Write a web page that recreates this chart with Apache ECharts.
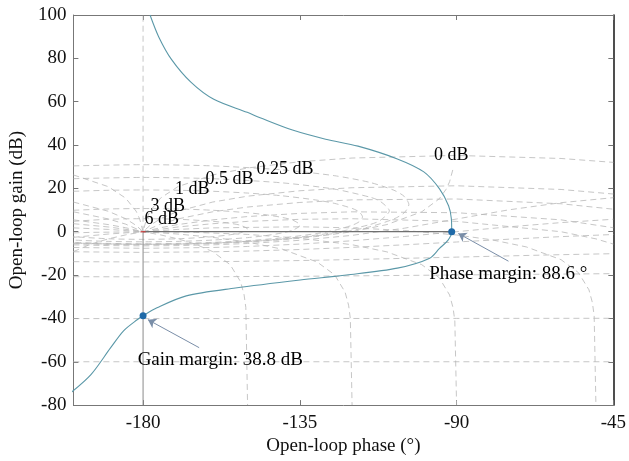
<!DOCTYPE html>
<html><head><meta charset="utf-8">
<script src="https://cdn.jsdelivr.net/npm/echarts@6/dist/echarts.min.js"></script>
<style>html,body{margin:0;padding:0;background:#fff}#c{width:629px;height:461px}</style>
</head><body><div id="c"></div>
<script>
// ---------- data (phase in degrees, gain in dB) ----------
const xTicks = [-180, -135, -90, -45];
const nicholsCurve = [[-178.0,100],[-175.5,89.9],[-171.8,79.4],[-166.2,68.9],[-159.7,61.1],[-150.1,55.1],[-146.4,52.6],[-137.1,46.9],[-127.6,42.7],[-118.3,39.5],[-107.0,33.6],[-99.4,27.6],[-94.9,19.8],[-92.3,12.0],[-91.5,6],[-91.4,0],[-92.5,-4],[-94.9,-7.7],[-97.7,-12.2],[-107.0,-16.8],[-121.6,-20.0],[-134.9,-22.3],[-153.5,-26.0],[-167.6,-29.6],[-176.0,-35.1],[-180.0,-38.8],[-181.7,-40.6],[-185.6,-45.7],[-189.3,-53.5],[-194.9,-65.8],[-200.6,-74.1]];
const gainMarginPoint = [-180, -38.8];
const phaseMarginPoint = [-91.4, 0];

// closed-loop gain contours (M)
const m6 = [[-200,4.81],[-190,5.75],[-180,6.02],[-170,5.75],[-160,4.81],[-155,3.89],[-152,2.96],[-150,1.25],[-152,-0.46],[-155,-1.39],[-160,-2.30],[-170,-3.25],[-180,-3.52],[-190,-3.25],[-200,-2.30]];
const m3 = [[-200,9.90],[-190,10.50],[-180,10.69],[-170,10.50],[-160,9.90],[-150,8.76],[-145,7.87],[-140,6.57],[-137,5.33],[-134.9,3.02],[-137,0.71],[-140,-0.53],[-145,-1.83],[-150,-2.72],[-160,-3.86],[-170,-4.46],[-180,-4.65],[-190,-4.46],[-200,-3.86]];
const m1 = [[-200,18.66],[-190,19.12],[-180,19.27],[-170,19.12],[-160,18.66],[-150,17.84],[-140,16.56],[-130,14.55],[-125,13.06],[-120,10.77],[-118,9.17],[-117,6.87],[-118,4.57],[-120,2.97],[-125,0.68],[-130,-0.81],[-140,-2.82],[-150,-4.10],[-160,-4.92],[-170,-5.38],[-180,-5.53],[-190,-5.38],[-200,-4.92]];
const m05 = [[-200,24.47],[-180,25.05],[-160,24.47],[-140,22.54],[-125,19.64],[-115,16.01],[-112,14.12],[-109.3,9.63],[-112,5.14],[-115,3.25],[-125,-0.37],[-140,-3.27],[-160,-5.21],[-180,-5.78],[-200,-5.21]];
const m025 = [[-200,30.38],[-180,30.94],[-160,30.38],[-140,28.53],[-125,25.84],[-115,22.80],[-108,19.15],[-105,16.25],[-103.7,12.53],[-105,8.8],[-108,5.89],[-115,2.25],[-125,-0.79],[-140,-3.49],[-160,-5.34],[-180,-5.90],[-200,-5.34]];
const m0 = [[-200,-5.48],[-190,-5.89],[-180,-6.02],[-170,-5.89],[-160,-5.48],[-150,-4.77],[-140,-3.71],[-130,-2.18],[-120,0],[-110,3.30],[-100,9.19],[-95,15.16],[-93,19.6],[-92,23.1],[-91,29.1]];
const mNeg1 = [[-200,-6.05],[-190,-6.40],[-180,-6.53],[-170,-6.40],[-160,-6.05],[-150,-5.44],[-135,-3.96],[-120,-1.68],[-105,1.62],[-90,5.87],[-75,10.1],[-60,13.4],[-45,15.7]];
const mNeg3 = [[-200,-7.27],[-180,-7.65],[-160,-7.27],[-150,-6.80],[-135,-5.71],[-120,-4.17],[-105,-2.21],[-90,0.02],[-75,2.25],[-60,4.21],[-45,5.75]];
const mNeg6 = [[-200,-9.26],[-180,-9.53],[-160,-9.26],[-150,-8.93],[-135,-8.21],[-120,-7.22],[-105,-6.04],[-90,-4.74],[-75,-3.45],[-60,-2.26],[-45,-1.28]];
const mNeg12 = [[-200,-13.82],[-180,-13.95],[-160,-13.82],[-150,-13.65],[-135,-13.30],[-120,-12.84],[-90,-11.72],[-60,-10.59],[-45,-10.13]];
const mNeg20 = [[-200,-20.75],[-180,-20.83],[-160,-20.75],[-135,-20.57],[-90,-19.96],[-45,-19.34]];
const mNeg40 = [[-200,-40.08],[-180,-40.09],[-90,-40.0],[-45,-39.94]];
const mNeg60 = [[-200,-60],[-45,-60]];

// closed-loop phase contours (N)
const n1 = [[-200,26.2],[-190,20.8],[-185,15.5],[-182,9.5],[-181,6.0],[-180,0],[-179,6.0],[-178,9.5],[-175,15.5],[-170,20.8],[-160,26.2],[-150,29.4],[-135,32.3],[-120,34.0],[-90,35.2],[-60,33.8],[-45,32.0]];
const n5 = [[-200,13.7],[-190,9.45],[-185,6.0],[-182,2.91],[-180,0],[-178,2.91],[-175,6.0],[-170,9.45],[-160,13.7],[-150,16.4],[-135,18.9],[-120,20.3],[-90,21.2],[-60,19.5],[-45,17.4]];
const n10 = [[-200,9.2],[-190,5.9],[-185,3.5],[-180,0],[-175,3.5],[-170,5.9],[-160,9.2],[-150,11.4],[-135,13.5],[-120,14.7],[-90,15.1],[-60,12.9],[-45,10.4]];
const n20 = [[-200,5.48],[-190,3.3],[-185,1.84],[-180,0],[-175,1.84],[-170,3.3],[-160,5.48],[-150,7.0],[-135,8.46],[-120,9.18],[-90,8.78],[-60,5.48],[-45,1.84]];
const n30 = [[-200,3.7],[-190,2.2],[-180,0],[-170,2.2],[-160,3.7],[-150,4.77],[-135,5.72],[-120,6.0],[-90,4.77],[-60,0],[-50,-3.3],[-45,-5.7]];
const n50 = [[-200,1.78],[-190,1.07],[-180,0],[-170,1.07],[-160,1.78],[-135,2.28],[-120,1.78],[-105,0.58],[-90,-1.52],[-80,-3.7],[-70,-7.0],[-60,-12.9],[-55,-18.9],[-52,-26.8],[-51,-32.8],[-50.5,-38.9],[-50,-80]];
const n90 = [[-200,-0.54],[-195,-0.3],[-180,0],[-165,-0.3],[-150,-1.25],[-135,-3.0],[-120,-6.0],[-110,-9.3],[-100,-15.2],[-95,-21.2],[-92,-29.2],[-91,-35.2],[-90.5,-41.2],[-90,-80]];
const n120 = [[-200,-2.59],[-190,-1.07],[-180,0],[-170,-1.07],[-160,-2.59],[-150,-4.77],[-140,-8.07],[-130,-14.0],[-125,-19.9],[-122,-27.9],[-121,-33.9],[-120.5,-40],[-120,-80]];
const n150 = [[-200,-9.19],[-195,-5.72],[-190,-3.30],[-185,-1.46],[-180,0],[-175,-1.46],[-170,-3.30],[-165,-5.72],[-160,-9.19],[-155,-15.2],[-152,-23.1],[-151,-29.1],[-150.5,-35],[-150,-80]];
const n360 = [[-180,0],[-180,100]];

// margin lines
const gmLine = [[-180,0],[-180,-80]];
const pmLine = [[-180,0],[-91.4,0]];

// text labels
const contourLabels = [[-179.7,5.6,'6 dB'],[-178.0,11.6,'3 dB'],[-171.0,19.8,'1 dB'],[-162.2,24.4,'0.5 dB'],[-147.6,29.0,'0.25 dB'],[-96.6,35.4,'0 dB']];
const marginLabels = [[-181.7,-59.4,'Gain margin: 38.8 dB'],[-98.0,-19.6,'Phase margin: 88.6 °']];
const arrows = [[[-163.9,-53.5],[-178.6,-40.6]],[[-75.1,-13.6],[-89.5,-0.8]]];

// ---------- chart ----------
const FONT = 'Liberation Serif, Times New Roman, serif';
const gridColor = '#b8b8b8';
function gridLine(data, smooth) {
  return {type:'line', data:data, showSymbol:false, symbol:'none', silent:true, smooth:smooth||false, z:1,
    lineStyle:{color:gridColor, width:0.8, type:[6,4]}};
}
const gridSets = [m6,m3,m1,m05,m025,m0,mNeg1,mNeg3,mNeg6,mNeg12,mNeg20,mNeg40,mNeg60,n1,n5,n10,n20,n30,n50,n90,n120,n150,n360];
const series = gridSets.map((d, i) => gridLine(d, i < 5 ? 0.25 : false));

series.push({type:'line', data:gmLine, symbol:'none', silent:true, z:2, lineStyle:{color:'#8a8a8a', width:1}});
series.push({type:'line', data:pmLine, symbol:'none', silent:true, z:2, lineStyle:{color:'#6f6f6f', width:1.2}});
series.push({type:'line', data:nicholsCurve, symbol:'none', smooth:0.3, z:3, lineStyle:{color:'#5b98a8', width:1.1}});
series.push({type:'scatter', data:[gainMarginPoint, phaseMarginPoint], symbolSize:7, z:4, itemStyle:{color:'#1f6aa8', opacity:1}});
series.push({type:'scatter', data:[[-180,0]], symbol:'rect', symbolSize:[5,1.2], z:4, itemStyle:{color:'#d04040', opacity:1}});
series.push({type:'lines', coordinateSystem:'cartesian2d', z:4, symbol:['none','arrow'], symbolSize:8,
  lineStyle:{color:'#7a8ea8', width:1, opacity:1}, data:arrows.map(c => ({coords:c}))});
const labelBase = {show:true, position:'right', distance:0, formatter:p => p.data[2], color:'#000', fontFamily:FONT, opacity:1};
series.push({type:'scatter', data:contourLabels, symbolSize:1, z:5, silent:true, itemStyle:{opacity:1, color:'rgba(0,0,0,0)'},
  label:Object.assign({fontSize:18}, labelBase)});
series.push({type:'scatter', data:marginLabels, symbolSize:1, z:5, silent:true, itemStyle:{opacity:1, color:'rgba(0,0,0,0)'},
  label:Object.assign({fontSize:19}, labelBase)});

const axisText = {color:'#111', fontSize:19, fontFamily:FONT};
const option = {
  animation:false,
  backgroundColor:'#fff',
  grid:{left:70, right:10, top:15, bottom:53, containLabel:false},
  xAxis:[{
    type:'value', min:-200, max:-45, position:'bottom',
    axisLine:{show:true, onZero:false, lineStyle:{color:'#777', width:1}},
    axisTick:{show:true, inside:true, length:5, customValues:xTicks, lineStyle:{color:'#777'}},
    axisLabel:Object.assign({customValues:xTicks, margin:8}, axisText),
    splitLine:{show:false},
    name:'Open-loop phase (°)', nameLocation:'middle', nameGap:30,
    nameTextStyle:axisText
  },{
    type:'value', min:-200, max:-45, position:'top',
    axisLine:{show:true, onZero:false, lineStyle:{color:'#777', width:1}},
    axisTick:{show:true, inside:true, length:5, customValues:xTicks, lineStyle:{color:'#777'}},
    axisLabel:{show:false}, splitLine:{show:false}
  }],
  yAxis:[{
    type:'value', min:-80, max:100, interval:20, position:'left',
    axisLine:{show:true, onZero:false, lineStyle:{color:'#777', width:1}},
    axisTick:{show:true, inside:true, length:5, lineStyle:{color:'#777'}},
    axisLabel:Object.assign({margin:7}, axisText),
    splitLine:{show:false},
    name:'Open-loop gain (dB)', nameLocation:'middle', nameGap:38, nameRotate:90,
    nameTextStyle:axisText
  },{
    type:'value', min:-80, max:100, interval:20, position:'right',
    axisLine:{show:true, onZero:false, lineStyle:{color:'#222', width:1.6}},
    axisTick:{show:true, inside:true, length:5, lineStyle:{color:'#777'}},
    axisLabel:{show:false}, splitLine:{show:false}
  }],
  series:series
};
const chart = echarts.init(document.getElementById('c'), null, {renderer:'canvas'});
chart.setOption(option);
</script>
</body></html>
